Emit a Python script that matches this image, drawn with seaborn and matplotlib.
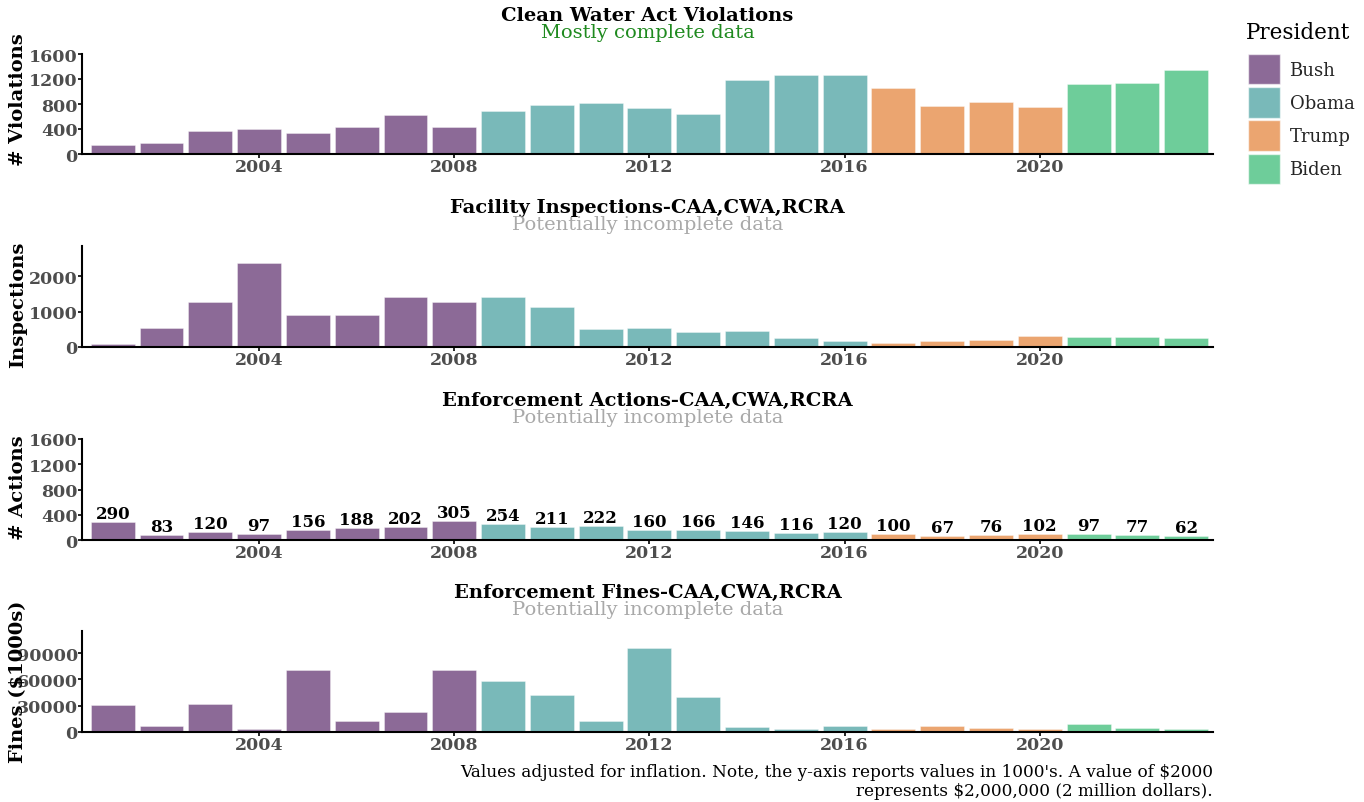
import matplotlib
matplotlib.use("Agg")
import matplotlib.pyplot as plt
import seaborn as sns
import pandas as pd
from matplotlib.patches import Patch

# ---------------- data ----------------
years = list(range(2001, 2024))
presidents = ["Bush"] * 8 + ["Obama"] * 8 + ["Trump"] * 4 + ["Biden"] * 3
violations = [150, 180, 368, 405, 336, 427, 624, 432, 683, 779, 811, 731, 640,
              1179, 1259, 1269, 1051, 768, 827, 757, 1125, 1141, 1349]
inspections = [90, 530, 1272, 2371, 893, 910, 1412, 1264, 1395, 1133, 519, 538,
               418, 446, 240, 176, 120, 156, 184, 307, 287, 287, 240]
actions = [290, 83, 120, 97, 156, 188, 202, 305, 254, 211, 222, 160, 166, 146,
           116, 120, 100, 67, 76, 102, 97, 77, 62]
fines = [31100, 7200, 32200, 3800, 71000, 12900, 22800, 70600, 58100, 42100,
         12900, 96000, 39400, 5700, 3600, 7200, 3000, 7200, 4200, 3000, 9100,
         4900, 3600]

president_order = ["Bush", "Obama", "Trump", "Biden"]
president_colors = ["#8c6a97", "#79b9b9", "#eba570", "#6ecd9a"]
x_ticks = [2004, 2008, 2012, 2016, 2020]

titles = ["Clean Water Act Violations", "Facility Inspections-CAA,CWA,RCRA",
          "Enforcement Actions-CAA,CWA,RCRA", "Enforcement Fines-CAA,CWA,RCRA"]
subtitles = ["Mostly complete data", "Potentially incomplete data",
             "Potentially incomplete data", "Potentially incomplete data"]
ylabels = ["# Violations", "Inspections", "# Actions", "Fines ($1000s)"]
yticks_list = [[0, 400, 800, 1200, 1600], [0, 1000, 2000],
               [0, 400, 800, 1200, 1600], [0, 30000, 60000, 90000]]
caption = ("Values adjusted for inflation. Note, the y-axis reports values in 1000's. "
           "A value of $2000\nrepresents $2,000,000 (2 million dollars).")

df = pd.DataFrame({"Year": years, "President": presidents,
                   "violations": violations, "inspections": inspections,
                   "actions": actions, "fines": fines})
palette = dict(zip(president_order, president_colors))

# ---------------- style ----------------
sns.set_theme(style="white")
plt.rcParams["font.family"] = ["DejaVu Serif"]

W, H = 1364, 803
fig = plt.figure(figsize=(W / 100, H / 100), dpi=100)

panels = [
    ("violations", 55, 155, [0, 1600], "#1f8a1f", False),
    ("inspections", 247, 348, None, "#a9a9a9", False),
    ("actions", 440, 541, [0, 1600], "#a9a9a9", True),
    ("fines", 632, 733, None, "#a9a9a9", False),
]
ylabel_centers = [100, 305, 488, 682]
ax_left, ax_right = 82, 1213

for i, (col, top, bottom, ylim, subcol, labels) in enumerate(panels):
    ax = fig.add_axes([ax_left / W, 1 - bottom / H, (ax_right - ax_left) / W,
                       (bottom - top) / H])
    sns.barplot(data=df, x="Year", y=col, hue="President", hue_order=president_order,
                palette=palette, native_scale=True, dodge=False, width=0.9,
                errorbar=None, legend=False, saturation=1,
                edgecolor=(1, 1, 1, 0.5), linewidth=0.5, ax=ax)
    if ylim is None:
        ylim = [0, max(df[col]) * 1.2]
    ax.set_ylim(*ylim)
    ax.set_xlim(2000.37, 2023.55)
    ax.set_xticks(x_ticks)
    ax.set_xticklabels([str(t) for t in x_ticks])
    ax.set_yticks(yticks_list[i])
    ax.set_yticklabels([str(t) for t in yticks_list[i]])
    ax.set_xlabel("")
    ax.set_ylabel("")
    for s in ["top", "right"]:
        ax.spines[s].set_visible(False)
    for s in ["left", "bottom"]:
        ax.spines[s].set_color("black")
        ax.spines[s].set_linewidth(1.5)
    ax.tick_params(axis="both", which="major", length=3, width=1.2, color="black",
                   labelsize=12.5, labelcolor="#4d4d4d", pad=0, left=True, bottom=True)
    for lab in ax.get_xticklabels() + ax.get_yticklabels():
        lab.set_fontweight("bold")
    if labels:
        for cont in ax.containers:
            ax.bar_label(cont, fmt="%d", padding=0, fontsize=12, fontweight="bold",
                         color="black")
    # titles
    cx = (ax_left + ax_right) / 2 / W
    fig.text(cx, 1 - (top - 39) / H, titles[i], ha="center", va="center",
             fontsize=14, fontweight="bold", color="black")
    fig.text(cx, 1 - (top - 22) / H, subtitles[i], ha="center", va="center",
             fontsize=14, color=subcol)
    fig.text(18 / W, 1 - ylabel_centers[i] / H, ylabels[i], rotation=90,
             ha="center", va="center", fontsize=14, fontweight="bold", color="black")

# legend (title drawn as text for exact spacing)
fig.text(1246 / W, 1 - 33 / H, "President", ha="left", va="center",
         fontsize=15.5, color="black")
handles = [Patch(facecolor=c, edgecolor=(1, 1, 1, 0.6), label=p)
           for p, c in zip(president_order, president_colors)]
leg = fig.legend(handles=handles, loc="upper left",
                 bbox_to_anchor=(1248 / W, 1 - 55 / H), frameon=False,
                 fontsize=13, handlelength=1.75, handleheight=2.22,
                 labelspacing=0.15, handletextpad=0.55, borderpad=0,
                 borderaxespad=0)

fig.text(ax_right / W, 1 - 764 / H, caption, ha="right", va="top", ma="right",
         fontsize=12.2, color="black", linespacing=1.15)

fig.savefig("out.png", dpi=100)
